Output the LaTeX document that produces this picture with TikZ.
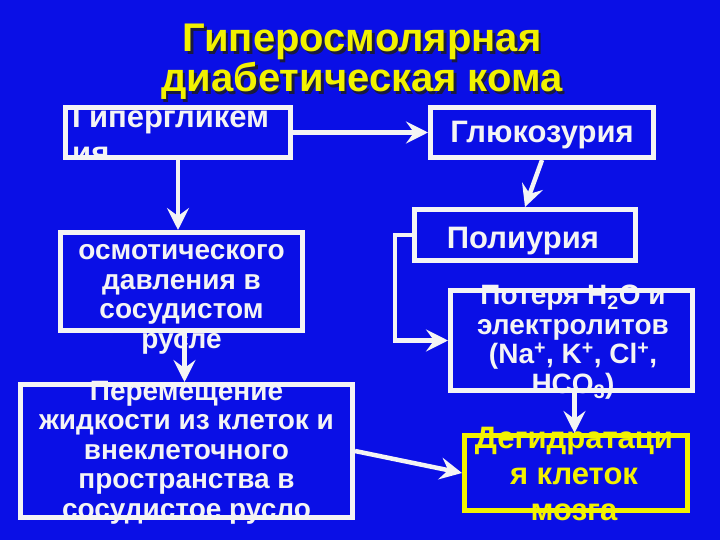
\documentclass[tikz,border=0pt]{standalone}
\usepackage{fontspec}
\setmainfont{Liberation Sans}
\usetikzlibrary{arrows.meta,positioning}
\definecolor{Slide}{HTML}{0A0FE6}
\definecolor{Title}{HTML}{F2F200}
\definecolor{Shade}{HTML}{1A1A40}
\definecolor{Chalk}{HTML}{F4F4F4}

\begin{document}
\begin{tikzpicture}[x=1pt,y=-1pt,
      frame/.style={draw=Chalk,line width=5pt,inner sep=0pt},
      txt/.style={text=Chalk,align=center,inner sep=0pt,font=\bfseries\fontsize{28}{29.5}\selectfont},
      big/.style={txt,font=\bfseries\fontsize{31}{36}\selectfont},
      head/.style={align=center,inner sep=0pt,font=\bfseries\fontsize{40}{40}\selectfont},
      arrow/.style={-{Stealth[length=22pt,width=22pt,inset=8pt]},line width=4.5pt,draw=Chalk}
    ]
      \useasboundingbox (0,0) rectangle (720,540);
      \fill[Slide] (0,0) rectangle (720,540);
      \node[head,text=Shade,anchor=base] (shadow) at (364.5,94.5) {Гиперосмолярная\\диабетическая кома};
      \node[head,text=Title,anchor=base] (title) at (362,92) {Гиперосмолярная\\диабетическая кома};
      \begin{scope}
        \clip (63,105) rectangle (293,160);
        \node[big,align=left,anchor=base west] (thyper) at (72,164) {Гипергликем\\ия};
      \end{scope}
      \node[big,anchor=base] (tgluc) at (542,143) {Глюкозурия};
      \node[txt,anchor=base] (tosm) at (181.5,348) {осмотического\\давления в\\сосудистом\\русле};
      \node[txt,anchor=base] (tmove) at (186.5,518) {Перемещение\\жидкости из клеток и\\внеклеточного\\пространства в\\сосудистое русло};
      \node[big,anchor=base] (tpoly) at (523,248) {Полиурия};
      \node[txt,anchor=base] (tloss) at (573,393) {Потеря H\textsubscript{2}O и\\электролитов\\(Na\textsuperscript{+}, K\textsuperscript{+}, Cl\textsuperscript{+},\\HCO\textsubscript{3})};
      \node[big,text=Title,anchor=base] (tdehyd) at (574,520) {Дегидратаци\\я клеток\\мозга};
      \node[frame,minimum width=225,minimum height=50] (hyper) at (178,132.5) {};
      \node[frame,minimum width=223,minimum height=50] (gluc) at (542,132.5) {};
      \node[frame,minimum width=242,minimum height=98] (osm) at (181.5,281.5) {};
      \node[frame,minimum width=332,minimum height=133] (move) at (186.5,451) {};
      \node[frame,minimum width=221,minimum height=51] (poly) at (525,235) {};
      \node[frame,minimum width=242,minimum height=100] (loss) at (571.5,340.5) {};
      \node[frame,draw=Title,minimum width=223,minimum height=75] (dehyd) at (576,473) {};
      \draw[arrow] (hyper) -- (gluc);
      \draw[arrow] (hyper.south) -- (hyper.south |- osm.north);
      \draw[arrow] ([xshift=3pt]osm.south) -- ([xshift=3pt]osm.south |- move.north);
      \draw[arrow] (gluc.south) -- (poly.north);
      \draw[arrow] (poly.west) -- ++(-17,0) |- (loss.west);
      \draw[arrow] ([xshift=3pt]loss.south) -- ([xshift=3pt]loss.south |- dehyd.north);
      \draw[arrow] (move.east) -- (dehyd.west);
    \end{tikzpicture}
\end{document}
